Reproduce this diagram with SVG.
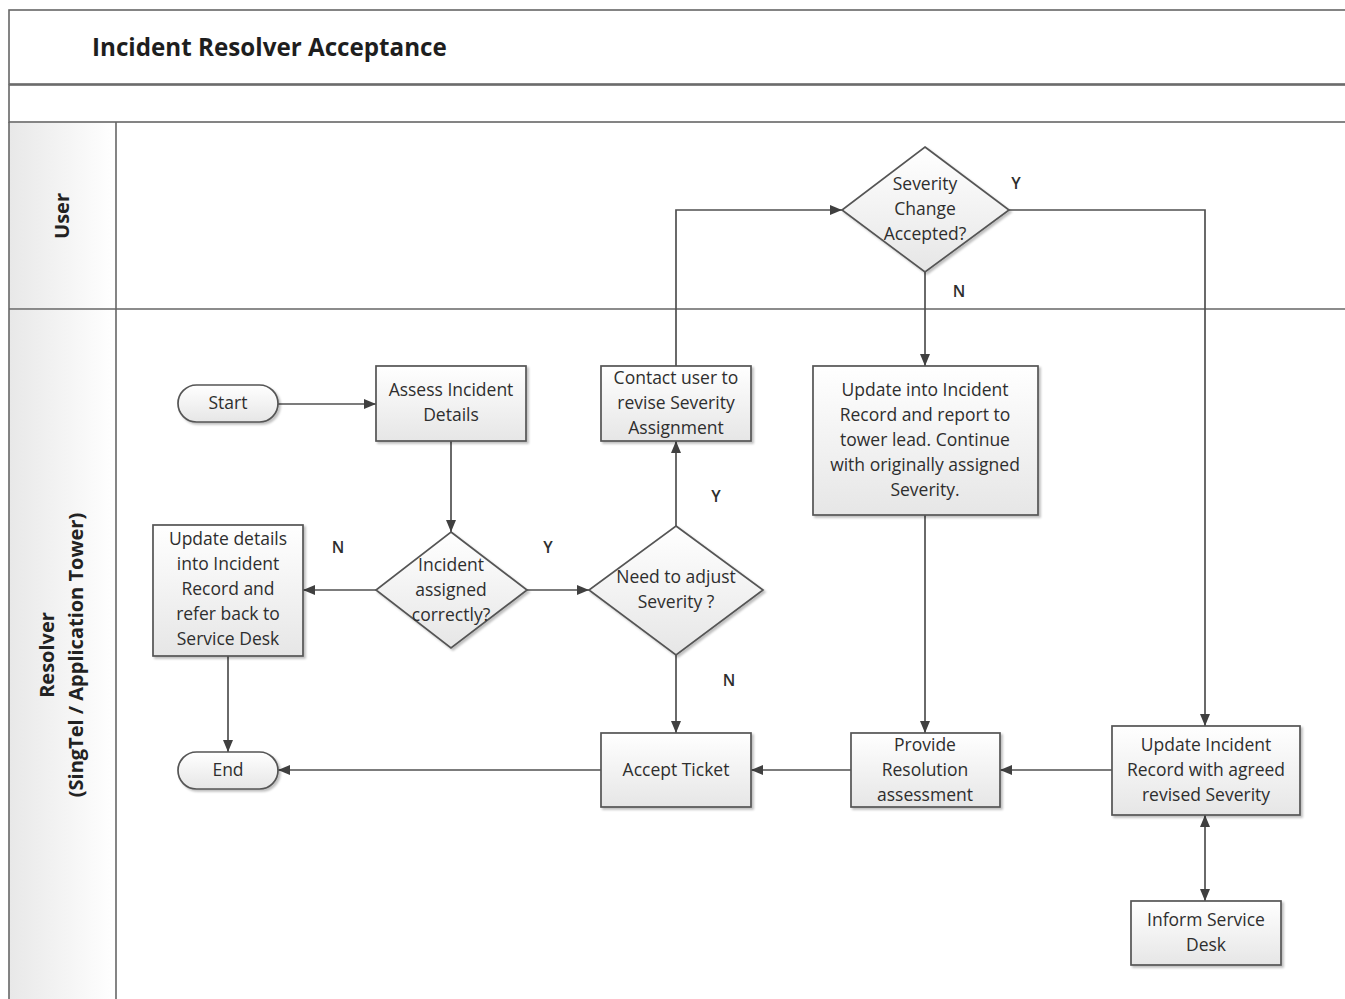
<svg xmlns="http://www.w3.org/2000/svg" width="1345" height="999" viewBox="0 0 1345 999">
<defs>
  <linearGradient id="nodeFill" x1="0" y1="0" x2="0" y2="1">
    <stop offset="0" stop-color="#ffffff"/>
    <stop offset="1" stop-color="#e6e6e6"/>
  </linearGradient>
  <linearGradient id="bandFill" x1="0" y1="0" x2="0" y2="1">
    <stop offset="0" stop-color="#f9f9f9"/>
    <stop offset="1" stop-color="#ececec"/>
  </linearGradient>
  <linearGradient id="laneHead" x1="0" y1="0" x2="1" y2="0">
    <stop offset="0" stop-color="#e8e8e8"/>
    <stop offset="1" stop-color="#ffffff"/>
  </linearGradient>
  <filter id="shadow" x="-10%" y="-10%" width="130%" height="130%">
    <feDropShadow dx="2" dy="2" stdDeviation="1.2" flood-color="#000" flood-opacity="0.25"/>
  </filter>
  <marker id="arrow" viewBox="0 0 12 10" refX="12" refY="5" markerWidth="12" markerHeight="10" markerUnits="userSpaceOnUse" orient="auto-start-reverse">
    <path d="M0,0 L12,5 L0,10 z" fill="#404040"/>
  </marker>
</defs>
<style>
  .frame { fill: none; stroke: #666; stroke-width: 1.6; }
  .shape { fill: url(#nodeFill); stroke: #555; stroke-width: 1.7; filter: url(#shadow); }
  .txt { font-family: "Open Sans", "Liberation Sans", sans-serif; font-size: 17.5px; fill: #2e2e2e; text-anchor: middle; }
  .lbl { font-family: "Open Sans", "Liberation Sans", sans-serif; font-size: 16px; fill: #2e2e2e; text-anchor: middle; font-weight: 600; }
  .lane { font-family: "Open Sans", "Liberation Sans", sans-serif; font-size: 20px; font-weight: bold; fill: #222; text-anchor: middle; }
  .edge { fill: none; stroke: #505050; stroke-width: 1.7; marker-end: url(#arrow); }
</style>

<rect width="1345" height="999" fill="#ffffff"/>

<!-- pool header and lanes -->
<g id="pool">
  <rect x="9" y="10" width="1345" height="74" fill="url(#bandFill)" class="frame"/>
  <rect x="9" y="85" width="1345" height="37" fill="url(#bandFill)" class="frame"/>
  <text x="92" y="56" font-family="'Open Sans', 'Liberation Sans', sans-serif" font-size="24.2" font-weight="bold" fill="#1e1e1e">Incident Resolver Acceptance</text>
  <rect x="9" y="123" width="107" height="186" fill="url(#laneHead)" stroke="none"/>
  <rect x="9" y="310" width="107" height="700" fill="url(#laneHead)" stroke="none"/>
  <line x1="9" y1="122" x2="9" y2="999" class="frame"/>
  <line x1="116" y1="122" x2="116" y2="999" class="frame"/>
  <line x1="9" y1="309" x2="1345" y2="309" class="frame"/>
  <text class="lane" transform="translate(69,216) rotate(-90)">User</text>
  <text class="lane" transform="translate(54,655) rotate(-90)">Resolver</text>
  <text class="lane" font-size="21.5" transform="translate(83,655) rotate(-90)">(SingTel / Application Tower)</text>
</g>

<!-- connectors -->
<g id="connectors">
  <path class="edge" d="M278,404 H376"/>
  <path class="edge" d="M451,441 V532"/>
  <path class="edge" d="M376,590 H303"/>
  <path class="edge" d="M527,590 H589"/>
  <path class="edge" d="M228,656 V752"/>
  <path class="edge" d="M676,526 V441"/>
  <path class="edge" d="M676,655 V733"/>
  <path class="edge" d="M676,366 V210 H842"/>
  <path class="edge" d="M925,272 V366"/>
  <path class="edge" d="M1009,210 H1205 V726"/>
  <path class="edge" d="M925,515 V733"/>
  <path class="edge" d="M1112,770 H1000"/>
  <path class="edge" d="M851,770 H751"/>
  <path class="edge" d="M601,770 H278"/>
  <path class="edge" d="M1205,901 V815" marker-start="url(#arrow)"/>
  <text class="lbl" x="338" y="553">N</text>
  <text class="lbl" x="548" y="553">Y</text>
  <text class="lbl" x="716" y="502">Y</text>
  <text class="lbl" x="729" y="686">N</text>
  <text class="lbl" x="959" y="297">N</text>
  <text class="lbl" x="1016" y="189">Y</text>
</g>

<g id="start">
  <rect class="shape" x="178" y="385" width="100" height="37" rx="18.5"/>
  <text class="txt" x="228" y="409">Start</text>
</g>

<g id="assess">
  <rect class="shape" x="376" y="366" width="150" height="75"/>
  <text class="txt" x="451" y="396">Assess Incident</text>
  <text class="txt" x="451" y="421">Details</text>
</g>

<g id="assigned">
  <polygon class="shape" points="451,532 527,590 451,648 376,590"/>
  <text class="txt" x="451" y="571">Incident</text>
  <text class="txt" x="451" y="596">assigned</text>
  <text class="txt" x="451" y="621">correctly?</text>
</g>

<g id="update-details">
  <rect class="shape" x="153" y="525" width="150" height="131"/>
  <text class="txt" x="228" y="545">Update details</text>
  <text class="txt" x="228" y="570">into Incident</text>
  <text class="txt" x="228" y="595">Record and</text>
  <text class="txt" x="228" y="620">refer back to</text>
  <text class="txt" x="228" y="645">Service Desk</text>
</g>

<g id="end">
  <rect class="shape" x="178" y="752" width="100" height="37" rx="18.5"/>
  <text class="txt" x="228" y="776">End</text>
</g>

<g id="adjust">
  <polygon class="shape" points="676,526 763,590 676,655 589,590"/>
  <text class="txt" x="676" y="583">Need to adjust</text>
  <text class="txt" x="676" y="608">Severity ?</text>
</g>

<g id="contact">
  <rect class="shape" x="601" y="366" width="150" height="75"/>
  <text class="txt" x="676" y="384">Contact user to</text>
  <text class="txt" x="676" y="409">revise Severity</text>
  <text class="txt" x="676" y="434">Assignment</text>
</g>

<g id="accept">
  <rect class="shape" x="601" y="733" width="150" height="74"/>
  <text class="txt" x="676" y="776">Accept Ticket</text>
</g>

<g id="severity-accepted">
  <polygon class="shape" points="925,147 1009,210 925,272 842,210"/>
  <text class="txt" x="925" y="190">Severity</text>
  <text class="txt" x="925" y="215">Change</text>
  <text class="txt" x="925" y="240">Accepted?</text>
</g>

<g id="update-original">
  <rect class="shape" x="813" y="366" width="225" height="149"/>
  <text class="txt" x="925" y="396">Update into Incident</text>
  <text class="txt" x="925" y="421">Record and report to</text>
  <text class="txt" x="925" y="446">tower lead. Continue</text>
  <text class="txt" x="925" y="471">with originally assigned</text>
  <text class="txt" x="925" y="496">Severity.</text>
</g>

<g id="resolution">
  <rect class="shape" x="851" y="733" width="149" height="74"/>
  <text class="txt" x="925" y="751">Provide</text>
  <text class="txt" x="925" y="776">Resolution</text>
  <text class="txt" x="925" y="801">assessment</text>
</g>

<g id="update-revised">
  <rect class="shape" x="1112" y="726" width="188" height="89"/>
  <text class="txt" x="1206" y="751">Update Incident</text>
  <text class="txt" x="1206" y="776">Record with agreed</text>
  <text class="txt" x="1206" y="801">revised Severity</text>
</g>

<g id="inform">
  <rect class="shape" x="1131" y="901" width="150" height="64"/>
  <text class="txt" x="1206" y="926">Inform Service</text>
  <text class="txt" x="1206" y="951">Desk</text>
</g>
</svg>
